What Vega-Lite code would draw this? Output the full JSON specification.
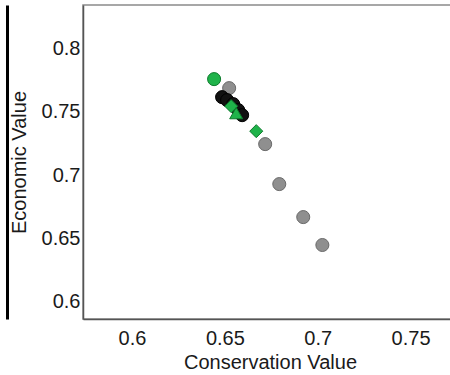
{
  "$schema": "https://vega.github.io/schema/vega-lite/v6.json",
  "width": 374,
  "height": 314,
  "autosize": "none",
  "padding": {"left": 83, "top": 5, "right": 0, "bottom": 56},
  "background": "white",
  "config": {
    "view": {"stroke": "#8a8a8a", "strokeWidth": 1.5},
    "axis": {
      "labelFont": "Liberation Sans",
      "titleFont": "Liberation Sans",
      "labelFontSize": 20,
      "titleFontSize": 20,
      "titleFontWeight": "normal",
      "labelColor": "#1a1a1a",
      "titleColor": "#1a1a1a",
      "grid": false,
      "ticks": false,
      "domainColor": "#555",
      "domainWidth": 1.5
    }
  },
  "data": {
    "values": [
      {"conservation": 0.6523, "economic": 0.7685, "group": "gray", "shape": "circle"},
      {"conservation": 0.6717, "economic": 0.7244, "group": "gray", "shape": "circle"},
      {"conservation": 0.6793, "economic": 0.6929, "group": "gray", "shape": "circle"},
      {"conservation": 0.6922, "economic": 0.6669, "group": "gray", "shape": "circle"},
      {"conservation": 0.7025, "economic": 0.6449, "group": "gray", "shape": "circle"},
      {"conservation": 0.6485, "economic": 0.7614, "group": "black", "shape": "circle"},
      {"conservation": 0.6512, "economic": 0.7591, "group": "black", "shape": "circle"},
      {"conservation": 0.6545, "economic": 0.7559, "group": "black", "shape": "circle"},
      {"conservation": 0.6572, "economic": 0.7512, "group": "black", "shape": "circle"},
      {"conservation": 0.6593, "economic": 0.7472, "group": "black", "shape": "circle"},
      {"conservation": 0.6442, "economic": 0.7756, "group": "green", "shape": "circle"},
      {"conservation": 0.6534, "economic": 0.7543, "group": "green", "shape": "diamond"},
      {"conservation": 0.6561, "economic": 0.7488, "group": "green", "shape": "triangle-up"},
      {"conservation": 0.6669, "economic": 0.7346, "group": "green", "shape": "diamond"}
    ]
  },
  "layer": [
    {
      "mark": {"type": "point", "filled": true, "size": 170, "strokeWidth": 1, "opacity": 1},
      "encoding": {
        "x": {
          "field": "conservation", "type": "quantitative",
          "title": "Conservation Value",
          "scale": {"domain": [0.5736, 0.775], "nice": false, "zero": false},
          "axis": {"values": [0.6, 0.65, 0.7, 0.75], "format": ".2~f", "labelPadding": 9, "titlePadding": 4}
        },
        "y": {
          "field": "economic", "type": "quantitative",
          "title": "Economic Value",
          "scale": {"domain": [0.5866, 0.834], "nice": false, "zero": false},
          "axis": {"values": [0.6, 0.65, 0.7, 0.75, 0.8], "format": ".2~f", "labelPadding": 3, "titlePadding": 12}
        },
        "color": {
          "field": "group", "type": "nominal", "legend": null,
          "scale": {"domain": ["gray", "black", "green"], "range": ["#8f8f8f", "#111111", "#1fb34a"]}
        },
        "stroke": {
          "field": "group", "type": "nominal", "legend": null,
          "scale": {"domain": ["gray", "black", "green"], "range": ["#6a6a6a", "#000000", "#0d7a2c"]}
        },
        "shape": {
          "field": "shape", "type": "nominal", "legend": null,
          "scale": {"domain": ["circle", "diamond", "triangle-up"], "range": ["circle", "diamond", "triangle-up"]}
        }
      }
    },
    {
      "mark": {"type": "point", "opacity": 0},
      "encoding": {
        "x": {"field": "conservation", "type": "quantitative"},
        "y": {
          "field": "economic", "type": "quantitative",
          "axis": {"orient": "left", "offset": 76, "labels": false, "ticks": false, "title": null, "domainColor": "#000000", "domainWidth": 3}
        }
      }
    }
  ],
  "resolve": {"axis": {"y": "independent"}}
}
